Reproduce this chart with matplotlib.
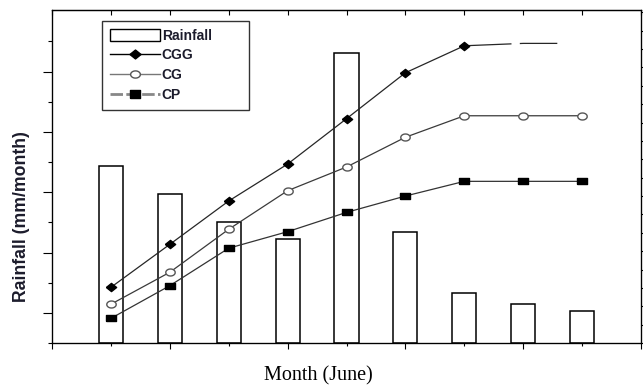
import numpy as np
import matplotlib
matplotlib.use("Agg")
import matplotlib.pyplot as plt
from matplotlib.lines import Line2D
from matplotlib.patches import Patch

# data
days = [1, 2, 3, 4, 5, 6, 7, 8, 9]
rainfall = [146.5, 123.2, 100.0, 86.5, 240.1, 92.0, 41.4, 32.3, 26.5]
cgg = [3.03, 5.37, 7.73, 9.74, 12.21, 14.71, 16.18]
cgg_tail = [16.18, 16.31, 16.31]
cg = [2.11, 3.85, 6.19, 8.29, 9.58, 11.2, 12.37, 12.37, 12.37]
cp = [1.34, 3.12, 5.16, 6.06, 7.11, 8.0, 8.8, 8.8, 8.8]

label_font = ["Liberation Sans", "DejaVu Sans"]
text_col = "#1c1c2c"

# squashed marker shapes like the original
diamond = [(-1, 0), (0, 0.8), (1, 0), (0, -0.8), (-1, 0)]
ellipse = [(np.cos(t), 0.74 * np.sin(t)) for t in np.linspace(0, 2 * np.pi, 41)]
rect = [(-1, -0.74), (1, -0.74), (1, 0.74), (-1, 0.74), (-1, -0.74)]

fig = plt.figure(figsize=(6.43, 3.85), dpi=100)
ax = fig.add_axes([52 / 643, 1 - 343 / 385, 589 / 643, 333 / 385])

ax.bar(days, rainfall, width=0.41, color="white", edgecolor="black", linewidth=1.1, zorder=2)
ax.set_xlim(0, 10)
ax.set_ylim(0, 276)

ax.set_xticks(range(0, 11, 2))
ax.set_xticks(range(1, 10, 2), minor=True)
ax.set_yticks(range(25, 250, 50))
ax.set_yticks(range(0, 276, 50), minor=True)
ax.tick_params(axis="y", which="major", direction="out", length=6.5, width=0.8, labelleft=False)
ax.tick_params(axis="y", which="minor", direction="out", length=2.9, width=0.8)
ax.tick_params(axis="x", which="major", direction="out", length=4.3, width=0.8, labelbottom=False)
ax.tick_params(axis="x", which="minor", direction="out", length=2.2, width=0.8)
for s in ax.spines.values():
    s.set_linewidth(0.9)

top = ax.secondary_xaxis("top")
top.set_xticks(range(0, 11))
top.tick_params(direction="in", length=3.6, width=0.8, labeltop=False)

ax2 = ax.twinx()
ax2.set_ylim(0, 333 / 18.37)
ax2.set_yticks(range(0, 19))
ax2.tick_params(axis="y", direction="out", length=2.0, width=0.8, labelright=False)

ax2.plot(days[:7], cgg, color="#262626", lw=0.9, marker=diamond, ms=7.4,
         mfc="black", mec="black", zorder=4)
# dashed continuation of CGG with no markers
ax2.plot(days[6:], cgg_tail, color="#262626", lw=0.9,
         ls=(0, (34 / 0.9, 6 / 0.9, 27 / 0.9, 200)), zorder=3)
ax2.plot(days, cg, color="#3a3a3a", lw=0.9, marker=ellipse, ms=6.8,
         mfc="white", mec="#555555", mew=1.0, zorder=4)
ax2.plot(days, cp, color="#333333", lw=0.9, marker=rect, ms=6.6,
         mfc="black", mec="black", zorder=4)

handles = [
    Patch(facecolor="white", edgecolor="black", linewidth=1.0),
    Line2D([], [], color="black", lw=1.0, marker=diamond, ms=8, mfc="black", mec="black"),
    Line2D([], [], color="#777777", lw=1.0, marker=ellipse, ms=7, mfc="white", mec="#555555"),
    Line2D([], [], color="#888888", lw=2.0, ls=(0, (4.5, 1.2)), marker=rect, ms=7,
           mfc="black", mec="black"),
]
leg = ax2.legend(handles, ["Rainfall", "CGG", "CG", "CP"], loc="upper left",
                 bbox_to_anchor=(50 / 589, 1 - 11 / 333 - 0.01, 147 / 589, 0.01), mode="expand",
                 frameon=True, fancybox=False,
                 edgecolor="#333333", framealpha=1, handlelength=3.6, handleheight=0.9,
                 handletextpad=0.15, labelspacing=0.42, borderpad=0.55, borderaxespad=0,
                 prop={"family": label_font, "weight": "bold", "size": 10})
leg.get_frame().set_linewidth(1.0)
for t in leg.get_texts():
    t.set_color(text_col)

fig.text(21.5 / 643, 1 - 217 / 385, "Rainfall (mm/month)", rotation=90, ha="center", va="center",
         family=label_font, weight="bold", size=12.7, color=text_col)
fig.text(318 / 643, 1 - 376 / 385, "Month (June)", ha="center", va="center",
         family=["Liberation Serif", "DejaVu Serif"], size=14.5, color="black")

fig.savefig("out.png", dpi=100)
